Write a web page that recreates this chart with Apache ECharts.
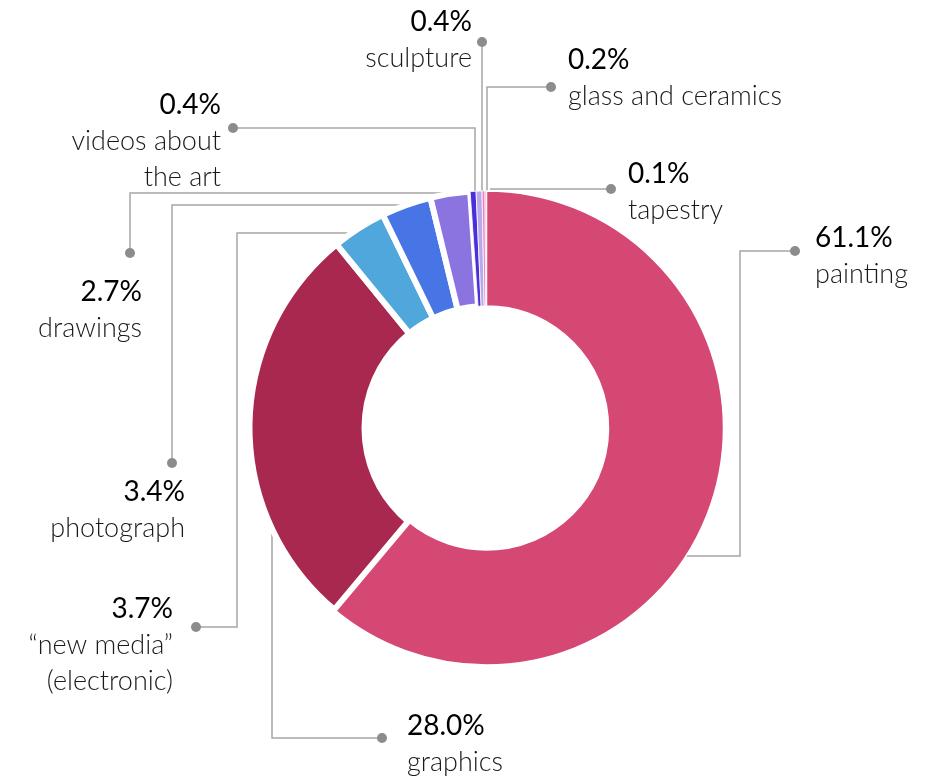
<!DOCTYPE html>
<html>
<head>
<meta charset="utf-8">
<script src="https://cdn.jsdelivr.net/npm/echarts@6/dist/echarts.min.js"></script>
<style>
  html, body { margin: 0; padding: 0; background: #ffffff; }
  #chart { width: 933px; height: 780px; }
</style>
</head>
<body>
<div id="chart"></div>
<script>
// ---- data ----
var categories = ['painting', 'graphics', '\u201cnew media\u201d\n(electronic)', 'photograph', 'drawings',
                  'videos about\nthe art', 'sculpture', 'glass and ceramics', 'tapestry'];
var values = [61.1, 28.0, 3.7, 3.4, 2.7, 0.4, 0.4, 0.2, 0.1];

// ---- styles / layout ----
var colors = ['#D44873', '#A9284F', '#4FA7DB', '#4775E6', '#8B73E0', '#4B30D9', '#B7A9EE', '#EE7FBF', '#F4A5C6'];
var borderWidths = [1.5, 6, 6, 6, 6, 0.8, 0.8, 0.8, 0.8];
// label anchor [x, top y, align]
var labelAnchors = [
  [815, 220, 'left'],
  [407, 708, 'left'],
  [173, 591, 'right'],
  [185, 474, 'right'],
  [142, 274, 'right'],
  [221, 87, 'right'],
  [472, 4, 'right'],
  [568, 42, 'left'],
  [628, 156, 'left']
];
// leader line polylines (slice edge -> elbow(s) -> dot)
var leaderPoints = [
  [[685, 556], [740, 556], [740, 251], [795, 251]],
  [[272, 530], [272, 738], [382, 738]],
  [[351, 233], [237, 233], [237, 627], [196, 627]],
  [[406, 205], [172, 205], [172, 463]],
  [[455, 193], [130, 193], [130, 253]],
  [[475, 192], [475, 128], [233, 128]],
  [[482, 192], [482, 42]],
  [[487, 192], [487, 87], [551, 87]],
  [[490, 189], [611, 189]]
];

var chart = echarts.init(document.getElementById('chart'), null, { renderer: 'canvas' });

var seriesData = categories.map(function (name, i) {
  return {
    name: name,
    value: values[i],
    itemStyle: { color: colors[i], borderColor: '#ffffff', borderWidth: borderWidths[i] }
  };
});

var dots = leaderPoints.map(function (pts) {
  var p = pts[pts.length - 1];
  return {
    type: 'circle',
    shape: { cx: p[0], cy: p[1], r: 5 },
    style: { fill: '#8C8C8C' },
    z: 100
  };
});

var FONT = 'Lato, "Open Sans", sans-serif';

chart.setOption({
  animation: false,
  backgroundColor: '#ffffff',
  graphic: dots,
  series: [{
    type: 'pie',
    center: [486.5, 428],
    radius: [122, 237],
    startAngle: 90,
    clockwise: true,
    avoidLabelOverlap: false,
    data: seriesData,
    label: {
      show: true,
      position: 'outside',
      fontFamily: FONT,
      formatter: function (p) {
        var side = labelAnchors[p.dataIndex][2] === 'left' ? 'L' : 'R';
        var lines = ['{v' + side + '|' + p.value.toFixed(1) + '%}'];
        p.name.split('\n').forEach(function (s) { lines.push('{n' + side + '|' + s + '}'); });
        return lines.join('\n');
      },
      rich: {
        vL: { fontFamily: FONT, fontSize: 28, color: '#000000', lineHeight: 36, align: 'left' },
        nL: { fontFamily: FONT, fontSize: 27, fontWeight: 300, color: '#1a1a1a', lineHeight: 36, align: 'left' },
        vR: { fontFamily: FONT, fontSize: 28, color: '#000000', lineHeight: 36, align: 'right' },
        nR: { fontFamily: FONT, fontSize: 27, fontWeight: 300, color: '#1a1a1a', lineHeight: 36, align: 'right' }
      }
    },
    labelLine: {
      show: true,
      smooth: false,
      lineStyle: { color: '#A6A6A6', width: 1.5 }
    },
    labelLayout: function (params) {
      var a = labelAnchors[params.dataIndex];
      return {
        x: a[0],
        y: a[1],
        align: a[2],
        verticalAlign: 'top',
        labelLinePoints: leaderPoints[params.dataIndex]
      };
    },
    emphasis: { disabled: true }
  }]
});
</script>
</body>
</html>
